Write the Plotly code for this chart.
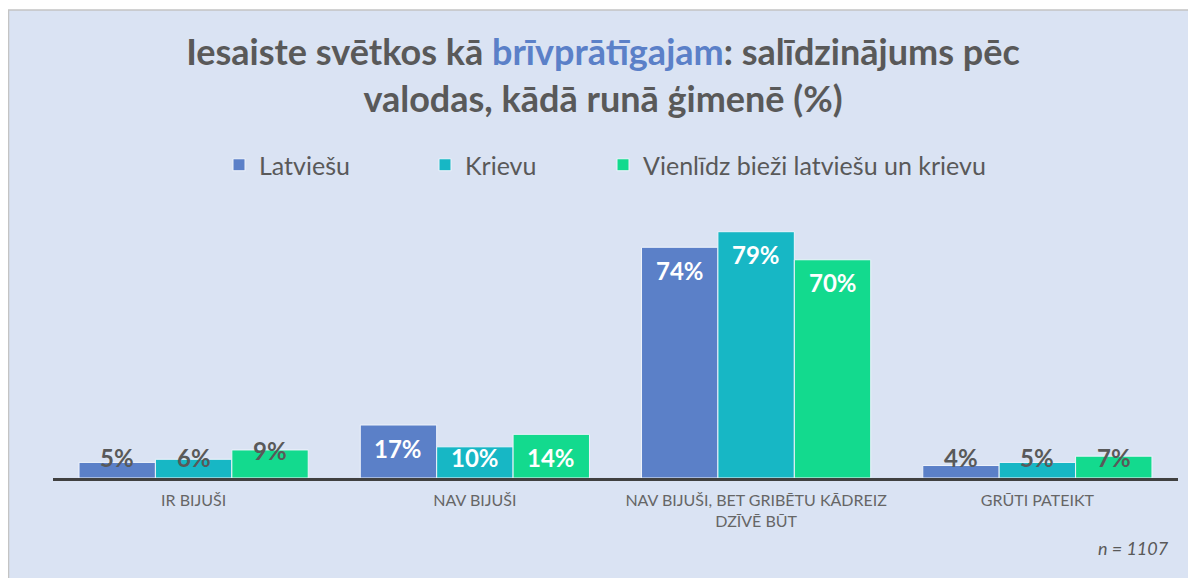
import plotly.graph_objects as go

categories = ["IR BIJUŠI", "NAV BIJUŠI", "NAV BIJUŠI, BET GRIBĒTU KĀDREIZ<br>DZĪVĒ BŪT", "GRŪTI PATEIKT"]
series_names = ["Latviešu", "Krievu", "Vienlīdz bieži latviešu un krievu"]
latviesu = [5, 17, 74, 4]
krievu = [6, 10, 79, 5]
vienlidz = [9, 14, 70, 7]
colors = ["#5b80c8", "#17b7c5", "#13da8e"]

W, H = 1196, 578
OFF = 8  # page body margin
L, R, T, B = 45, 26, 205, 108
YMAX = 85
BARGAP = 0.185
plot_w = W - L - R
plot_h = H - T - B
px_per_unit = plot_h / YMAX

def px_x(p):
    return (p - OFF - L) / plot_w

def px_y(p):
    return (H - B - (p - OFF)) / plot_h

fig = go.Figure()
xs = list(range(len(categories)))
all_series = [latviesu, krievu, vienlidz]
legend_ids = ["legend", "legend2", "legend3"]
legend_text_x = [259, 465, 643]
for name, vals, col, lg in zip(series_names, all_series, colors, legend_ids):
    fig.add_trace(go.Bar(
        x=xs, y=vals, name=name, legend=lg,
        marker=dict(color=col, line=dict(color="#eef3fb", width=1)),
        hoverinfo="skip",
    ))

bw = (1 - BARGAP) / len(all_series)
annotations = []
for j, vals in enumerate(all_series):
    for i, v in enumerate(vals):
        top_px = v * px_per_unit
        if v >= 10:
            center_px = max(top_px - 23, 21)
        else:
            center_px = max(top_px - 1, 21)
        annotations.append(dict(
            x=i + (j - 1) * bw, y=center_px / px_per_unit,
            xref="x", yref="y", text=f"{v}%", showarrow=False,
            yanchor="middle", xanchor="center",
            font=dict(family="Lato", size=24, weight=700,
                      color="white" if v >= 10 else "#595959"),
        ))
annotations.append(dict(
    x=px_x(1171), y=px_y(548), xref="paper", yref="paper",
    xanchor="right", yanchor="middle", showarrow=False,
    text="<i>n = 1107</i>", font=dict(family="Lato", size=18, color="#595959"),
))

legend_style = dict(
    orientation="h", xanchor="left", yanchor="middle",
    y=px_y(165), font=dict(family="Lato", size=25, color="#595959"),
    bgcolor="rgba(0,0,0,0)", borderwidth=0,
)

fig.update_layout(
    width=W, height=H,
    margin=dict(l=L, r=R, t=T, b=B, pad=0),
    paper_bgcolor="white",
    plot_bgcolor="rgba(0,0,0,0)",
    barmode="group", bargap=BARGAP, bargroupgap=0,
    title=dict(
        text="Iesaiste svētkos kā <span style='color:#5b80c8'>brīvprātīgajam</span>: salīdzinājums pēc<br>valodas, kādā runā ģimenē (%)",
        x=(603 - OFF) / W, xanchor="center", xref="container",
        y=1 - 57 / H, yanchor="top", yref="container",
        font=dict(family="Lato", size=36, weight=700, color="#595959"),
    ),
    legend=dict(x=px_x(legend_text_x[0] - 40), **legend_style),
    legend2=dict(x=px_x(legend_text_x[1] - 40), **legend_style),
    legend3=dict(x=px_x(legend_text_x[2] - 40), **legend_style),
    xaxis=dict(
        range=[-0.5, len(categories) - 0.5],
        tickvals=xs, ticktext=categories,
        showline=True, linecolor="#404040", linewidth=2.5,
        showgrid=False, zeroline=False, ticks="",
        ticklabelstandoff=6,
        tickfont=dict(family="Lato", size=16, color="#666666"),
    ),
    yaxis=dict(range=[0, YMAX], visible=False),
    annotations=annotations,
    shapes=[dict(
        type="rect", xref="paper", yref="paper", layer="below",
        x0=px_x(OFF + 0.5), x1=px_x(W + 20), y0=px_y(H + 20), y1=px_y(10),
        fillcolor="#dae3f3", line=dict(color="#c4c4c4", width=1.5),
    )],
    showlegend=True,
)

fig.write_html("out.html")
